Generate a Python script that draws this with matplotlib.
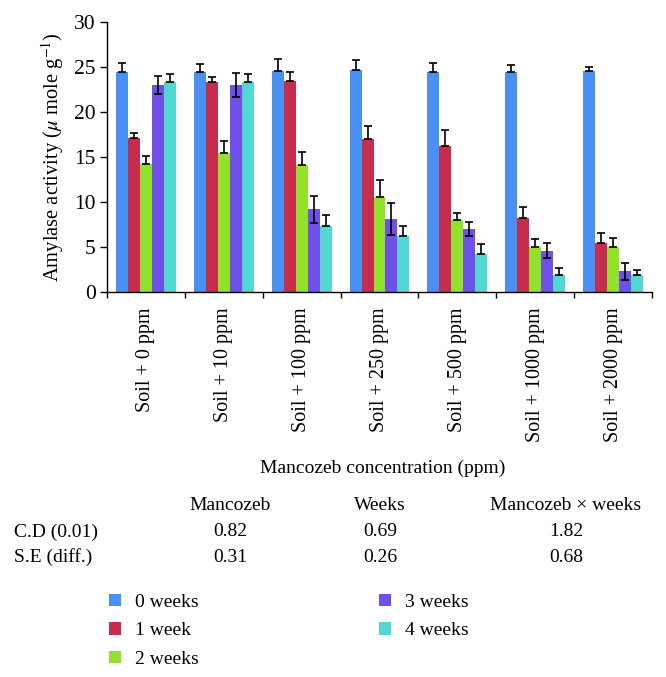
import numpy as np
import matplotlib
matplotlib.use('Agg')
import matplotlib.pyplot as plt

plt.rcParams['font.family'] = ['Liberation Serif', 'DejaVu Serif']
plt.rcParams['mathtext.fontset'] = 'stix'

# Amylase activity per mancozeb level, for each incubation time
categories = ['Soil + 0 ppm', 'Soil + 10 ppm', 'Soil + 100 ppm', 'Soil + 250 ppm',
              'Soil + 500 ppm', 'Soil + 1000 ppm', 'Soil + 2000 ppm']
series = ['0 weeks', '1 week', '2 weeks', '3 weeks', '4 weeks']
colors = ['#4a90f2', '#c62c4c', '#92e22c', '#7050ea', '#52d8d2']

week0 = [24.4, 24.4, 24.6, 24.7, 24.5, 24.5, 24.55]
week1 = [17.1, 23.3, 23.5, 17.0, 16.2, 8.2, 5.4]
week2 = [14.2, 15.5, 14.1, 10.6, 8.0, 5.0, 5.0]
week3 = [23.0, 23.0, 9.2, 8.1, 7.0, 4.6, 2.3]
week4 = [23.3, 23.3, 7.3, 6.2, 4.2, 1.9, 1.9]

err0 = [1.0, 0.9, 1.3, 1.1, 1.0, 0.75, 0.5]
err1 = [0.6, 0.6, 0.9, 1.4, 1.8, 1.3, 1.2]
err2 = [0.9, 1.3, 1.5, 1.8, 0.8, 0.9, 0.95]
err3 = [0.95, 1.3, 1.5, 1.8, 0.75, 0.85, 0.93]
err4 = [0.95, 0.9, 1.3, 1.15, 1.1, 0.75, 0.56]

values = [week0, week1, week2, week3, week4]
errors = [err0, err1, err2, err3, err4]

# statistics table below the chart
table_cols = ['Mancozeb', 'Weeks', 'Mancozeb \u00d7 weeks']
table_rows = ['C.D (0.01)', 'S.E (diff.)']
cd_vals = ['0.82', '0.69', '1.82']
se_vals = ['0.31', '0.26', '0.68']

W, H = 666, 677
fig = plt.figure(figsize=(W / 100, H / 100), dpi=100)
ax = fig.add_axes([107 / W, 1 - 292 / H, 545 / W, 270 / H])

x = np.arange(len(categories))
w = 0.154
fs = 14
for i, (vals, errs) in enumerate(zip(values, errors)):
    pos = x + (i - 2) * w
    # only the 3-week series shows both arms of the error bar
    if i == 3:
        yerr = errs
    else:
        yerr = [np.zeros(len(errs)), errs]
    ax.bar(pos, vals, w, color=colors[i], label=series[i], zorder=2)
    ax.errorbar(pos, vals, yerr=yerr, fmt='none', ecolor='black',
                elinewidth=1.2, capsize=2.6, capthick=1.2, zorder=3)

ax.set_xlim(-0.5, len(categories) - 0.5)
ax.set_ylim(0, 30)
ax.set_yticks([0, 5, 10, 15, 20, 25, 30])
ax.set_xticks(x)
ax.set_xticklabels(categories, rotation=90, fontsize=fs + 0.5)
ax.set_xticks(np.arange(len(categories) + 1) - 0.5, minor=True)
ax.tick_params(axis='x', which='major', length=0, pad=11)
ax.tick_params(axis='x', which='minor', length=4, width=1, direction='out')
ax.tick_params(axis='y', labelsize=fs + 1.5, length=5, width=1, direction='out', pad=3)
for s in ['top', 'right']:
    ax.spines[s].set_visible(False)
for s in ['left', 'bottom']:
    ax.spines[s].set_linewidth(1)
ax.set_ylabel(r'Amylase activity ($\mu$ mole g$^{-1}$)', fontsize=fs + 0.8, labelpad=6)

fig.text(383 / W, 1 - 468 / H, 'Mancozeb concentration (ppm)', ha='center', va='center', fontsize=fs)

col_x = [230, 380, 566]
for cx, head, cd, se in zip(col_x, table_cols, cd_vals, se_vals):
    fig.text(cx / W, 1 - 505 / H, head, ha='center', va='center', fontsize=fs)
    fig.text(cx / W, 1 - 532 / H, cd, ha='center', va='center', fontsize=fs)
    fig.text(cx / W, 1 - 557 / H, se, ha='center', va='center', fontsize=fs)
for ry, name in zip([532, 557], table_rows):
    fig.text(14 / W, 1 - ry / H, name, ha='left', va='center', fontsize=fs)

handles, labels = ax.get_legend_handles_labels()
leg_style = dict(frameon=False, fontsize=fs, handlelength=0.6, handleheight=0.6,
                 handletextpad=0.75, labelspacing=0.58, borderaxespad=0, borderpad=0)
fig.legend(handles[:3], labels[:3], loc='upper left',
           bbox_to_anchor=(109 / W, 1 - 594 / H), **leg_style)
fig.legend(handles[3:], labels[3:], loc='upper left',
           bbox_to_anchor=(379 / W, 1 - 594 / H), **leg_style)

fig.savefig('out.png', dpi=100)
